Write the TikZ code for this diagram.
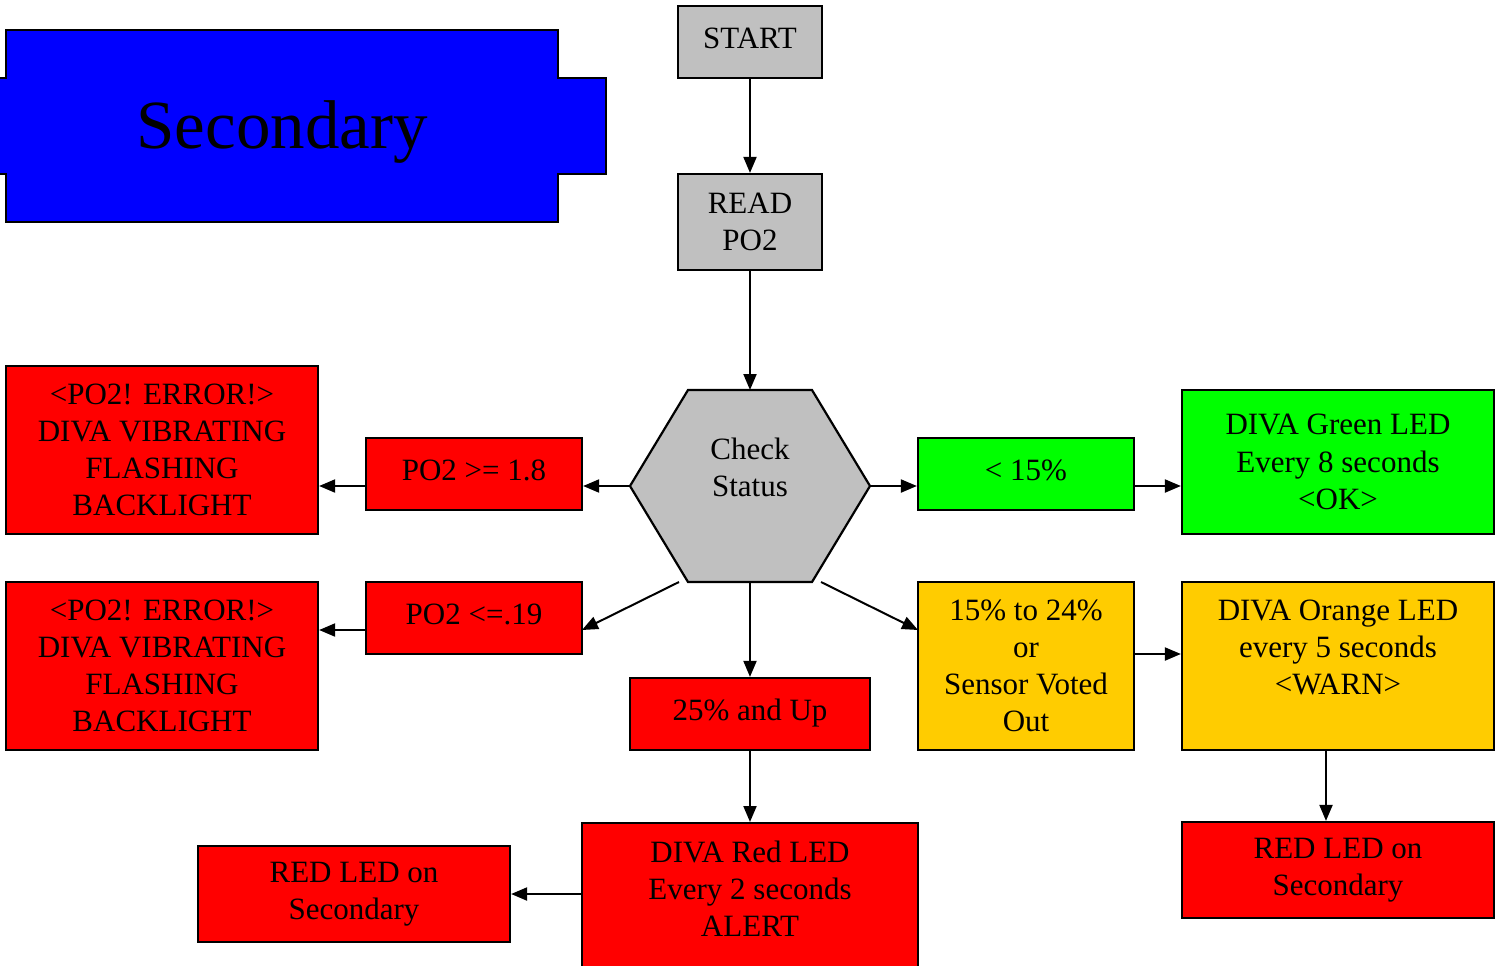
\documentclass[tikz,border=0pt]{standalone}
\usepackage{fontspec}
\setmainfont{Liberation Serif}
\usetikzlibrary{arrows.meta}
\definecolor{bgray}{RGB}{192,192,192}
\definecolor{bred}{RGB}{255,0,0}
\definecolor{bgreen}{RGB}{0,255,0}
\definecolor{byellow}{RGB}{255,204,0}
\definecolor{bblue}{RGB}{0,0,255}
\newcommand{\up}[1]{\raisebox{4pt}{#1}}
\tikzset{
  box/.style={draw=black, line width=1.1pt, inner sep=0pt, align=center,
    font=\fontsize{15.5}{18.6}\selectfont},
  conn/.style={line width=1pt, -{Triangle[length=8pt,width=6.5pt]}},
  shapeline/.style={draw=black, line width=1.1pt}
}
\begin{document}
\begin{tikzpicture}[x=0.5pt,y=-0.5pt]
\clip (0,0) rectangle (1501,965);
\fill[white] (0,0) rectangle (1501,965);
% Secondary banner
\path[shapeline, fill=bblue] (6,30) -- (558,30) -- (558,78) -- (606,78) -- (606,174) -- (558,174) -- (558,222) -- (6,222) -- (6,174) -- (-4,174) -- (-4,78) -- (6,78) -- cycle;
\node[font=\fontsize{34.5}{40}\selectfont] (sec) at (282,132) {Secondary};
% top
\node[box, fill=bgray, minimum width=72pt, minimum height=36pt] (start) at (750,42) {\up{START}};
\node[box, fill=bgray, minimum width=72pt, minimum height=48pt] (read) at (750,222) {READ\\PO2};
% hexagon
\coordinate (hT) at (750,390);
\coordinate (hL) at (630,486);
\coordinate (hR) at (870,486);
\coordinate (hB) at (750,582);
\coordinate (hBL) at (679,582);
\coordinate (hBR) at (821,582);
\path[shapeline, fill=bgray] (688,390) -- (812,390) -- (hR) -- (812,582) -- (688,582) -- (hL) -- cycle;
\node[box, draw=none] (hex) at (750,486) {Check\\Status\\\mbox{}};
% left branch
\node[box, fill=bred, minimum width=108pt, minimum height=36pt] (hi) at (474,474) {\up{PO2 >= 1.8}};
\node[box, fill=bred, minimum width=156pt, minimum height=84pt] (err1) at (162,450) {<PO2! ERROR!>\\DIVA VIBRATING\\FLASHING\\BACKLIGHT};
\node[box, fill=bred, minimum width=108pt, minimum height=36pt] (lo) at (474,618) {\up{PO2 <=.19}};
\node[box, fill=bred, minimum width=156pt, minimum height=84pt] (err2) at (162,666) {<PO2! ERROR!>\\DIVA VIBRATING\\FLASHING\\BACKLIGHT};
% right branch
\node[box, fill=bgreen, minimum width=108pt, minimum height=36pt] (ok) at (1026,474) {\up{< 15\%}};
\node[box, fill=bgreen, minimum width=156pt, minimum height=72pt] (green) at (1338,462) {DIVA Green LED\\Every 8 seconds\\<OK>};
\node[box, fill=byellow, minimum width=108pt, minimum height=84pt] (warn) at (1026,666) {15\% to 24\%\\or\\Sensor Voted\\Out};
\node[box, fill=byellow, minimum width=156pt, minimum height=84pt] (orange) at (1338,666) {DIVA Orange LED\\every 5 seconds\\<WARN>\\\mbox{}};
\node[box, fill=bred, minimum width=156pt, minimum height=48pt] (sec2) at (1338,870) {RED LED on\\Secondary};
% bottom branch
\node[box, fill=bred, minimum width=120pt, minimum height=36pt] (upn) at (750,714) {\up{25\% and Up}};
\node[box, fill=bred, minimum width=168pt, minimum height=80pt, anchor=north] (red) at (750,822) {};
\node[box, draw=none] (redtxt) at (750,889) {DIVA Red LED\\Every 2 seconds\\ALERT};
\node[box, fill=bred, minimum width=156pt, minimum height=48pt] (sec1) at (354,894) {RED LED on\\Secondary};
% connectors
\draw[conn] (start.south) -- (read.north);
\draw[conn] (read.south) -- (hT);
\draw[conn] (hL) -- (hi.east |- hL);
\draw[conn] (hi.west |- hL) -- (err1.east |- hL);
\draw[conn] (hR) -- (ok.west |- hR);
\draw[conn] (ok.east |- hR) -- (green.west |- hR);
\coordinate (loIn) at (582,630);
\draw[conn] (hBL) -- (loIn);
\draw[conn] (lo.west |- loIn) -- (err2.east |- loIn);
\coordinate (warnIn) at (918,630);
\draw[conn] (hBR) -- (warnIn);
\coordinate (wo) at (1134,654);
\draw[conn] (wo) -- (orange.west |- wo);
\coordinate (os) at (1326,750);
\draw[conn] (os) -- (sec2.north -| os);
\draw[conn] (hB) -- (upn.north);
\draw[conn] (upn.south) -- (red.north);
\coordinate (rl) at (582,894);
\draw[conn] (rl) -- (sec1.east |- rl);
\end{tikzpicture}
\end{document}
